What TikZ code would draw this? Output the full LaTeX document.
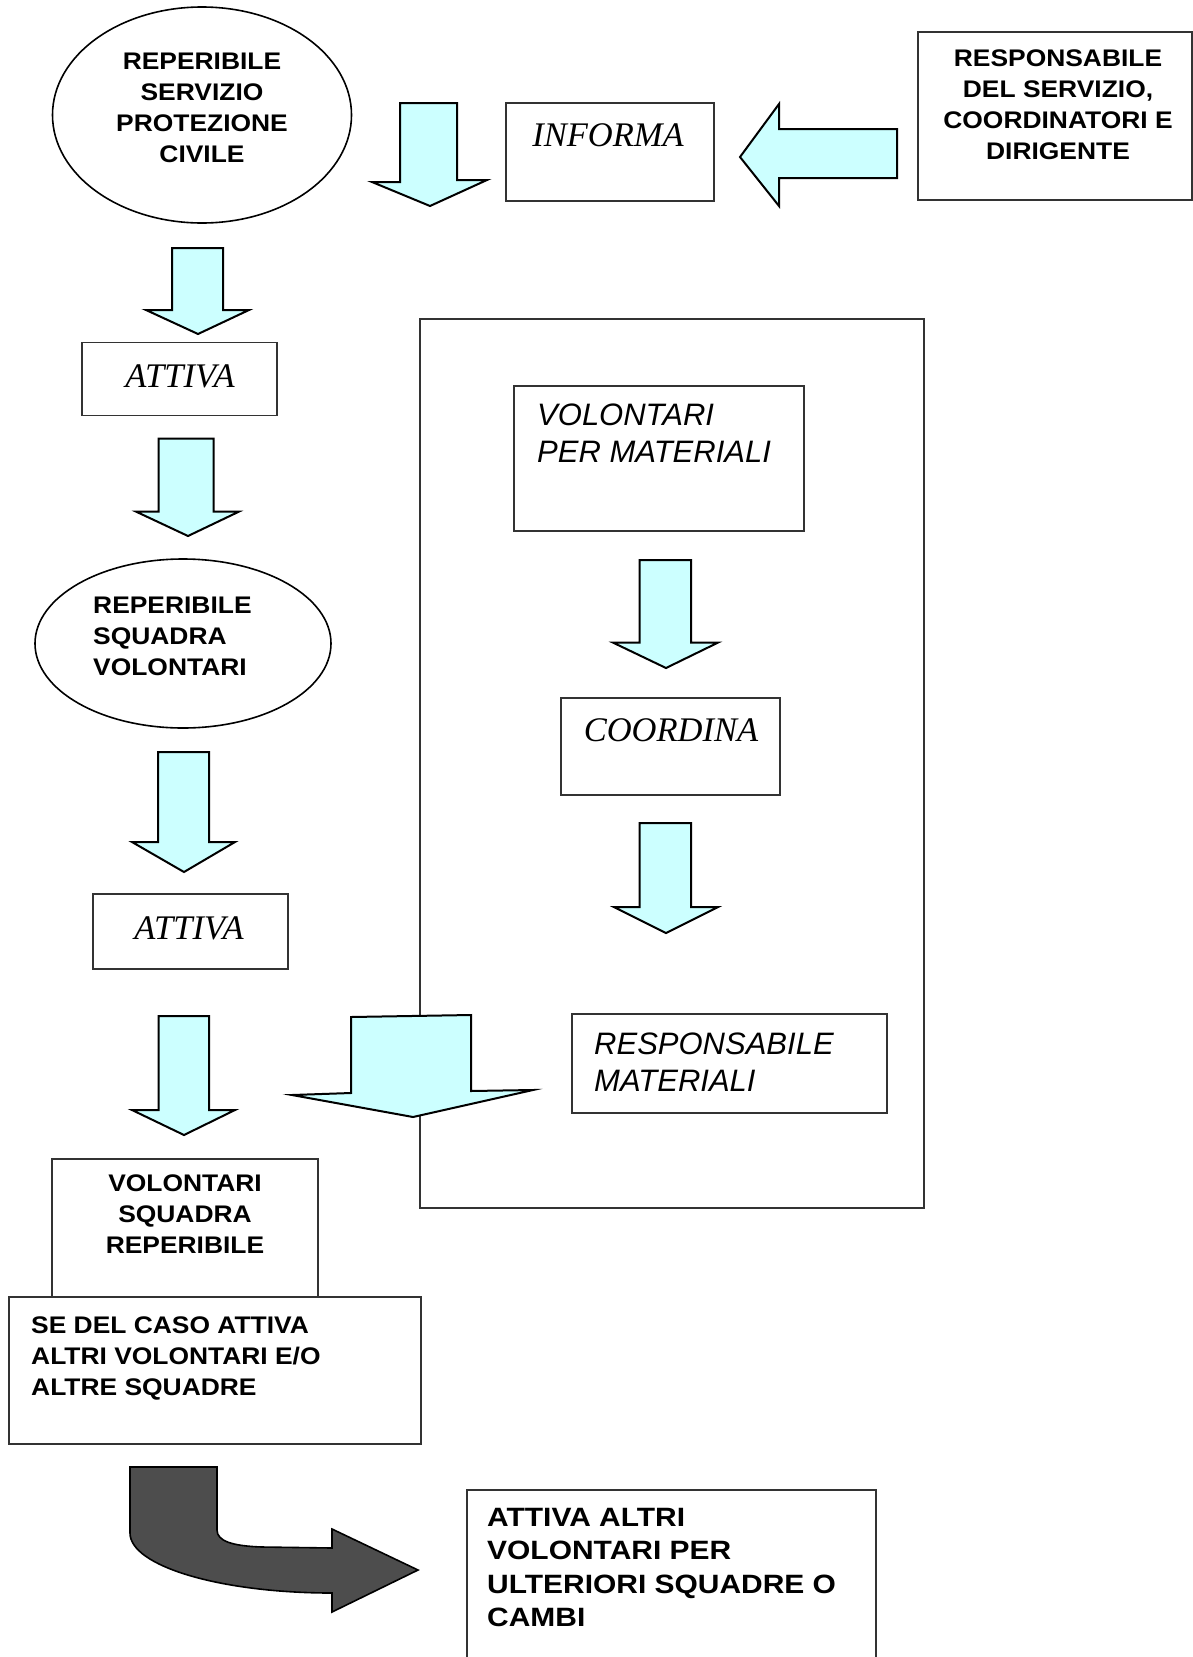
\documentclass[tikz,border=0pt]{standalone}
\usepackage{fontspec}
\setmainfont{Liberation Serif}
\newfontfamily\bsans[FakeStretch=1.1]{Liberation Sans}
\newfontfamily\wsans[FakeStretch=1.13]{Liberation Sans}
\newfontfamily\isans{Liberation Sans}
\usetikzlibrary{shapes.geometric}
\definecolor{arrowcyan}{HTML}{CCFFFF}
\definecolor{darkarrow}{HTML}{4D4D4D}
\definecolor{boxline}{HTML}{333333}
\begin{document}
\begin{tikzpicture}[x=1pt,y=-1pt,
  box/.style={draw=boxline,line width=1.6pt,fill=white,rectangle,inner sep=0pt,outer sep=0pt,anchor=north west},
  oval/.style={draw=black,line width=1.6pt,fill=white,ellipse,inner sep=0pt,outer sep=0pt},
  carrow/.style={draw=black,line width=2pt,fill=arrowcyan,line join=miter},
  darrow/.style={draw=black,line width=1.6pt,fill=darkarrow,line join=miter},
  btext/.style={font=\bsans\bfseries\fontsize{24}{31}\selectfont,inner sep=0pt,align=center,anchor=north},
  btextl/.style={font=\bsans\bfseries\fontsize{24}{31}\selectfont,inner sep=0pt,align=left,anchor=north west},
  wtext/.style={font=\wsans\bfseries\fontsize{26.5}{33.5}\selectfont,inner sep=0pt,align=left,anchor=north west},
  serifit/.style={font=\itshape\fontsize{34.5}{40}\selectfont,inner sep=0pt,anchor=north},
  sansit/.style={font=\isans\itshape\fontsize{31}{36.5}\selectfont,inner sep=0pt,align=left,anchor=north west}
]
\useasboundingbox (0,0) rectangle (1193,1657);

% container
\node[box,minimum width=504pt,minimum height=889pt] (cont) at (420,319) {};

% boxes
\node[box,minimum width=208pt,minimum height=98pt] (informa) at (506,103) {};
\node[box,minimum width=274pt,minimum height=168pt] (respserv) at (918,32) {};
\node[box,minimum width=195pt,minimum height=73pt] (attiva1) at (82,342.5) {};
\node[box,minimum width=195pt,minimum height=75pt] (attiva2) at (93,894) {};
\node[box,minimum width=290pt,minimum height=145pt] (volmat) at (514,386) {};
\node[box,minimum width=219pt,minimum height=97pt] (coord) at (561,698) {};
\node[box,minimum width=315pt,minimum height=99pt] (respmat) at (572,1014) {};
\node[box,minimum width=266pt,minimum height=138pt] (volsq) at (52,1159) {};
\node[box,minimum width=412pt,minimum height=147pt] (sedel) at (9,1297) {};
\node[box,minimum width=409pt,minimum height=200pt] (altri) at (467,1490) {};

% ellipses
\node[oval,minimum width=299pt,minimum height=216pt] (rep1) at (202,115) {};
\node[oval,minimum width=296pt,minimum height=169pt] (rep2) at (183,643.5) {};

% cyan block arrows
\draw[carrow] (400,103) -- (457,103) -- (457,180) -- (487,180) -- (430,206) -- (372,182) -- (400,182) -- cycle;
\draw[carrow] (897,129) -- (897,178) -- (779,178) -- (779,206) -- (740,157) -- (779,104) -- (779,129) -- cycle;
\draw[carrow] (172,248) -- (223,248) -- (223,310) -- (249,310) -- (198,334) -- (146,310) -- (172,310) -- cycle;
\draw[carrow] (158.5,438.6) -- (213.5,438.6) -- (213.5,511.6) -- (239,511.6) -- (188,536) -- (136,511.6) -- (158.5,511.6) -- cycle;
\draw[carrow] (158,752) -- (209,752) -- (209,842) -- (235,842) -- (184,872) -- (132,842) -- (158,842) -- cycle;
\draw[carrow] (158.5,1016) -- (209,1016) -- (209,1110) -- (235,1110) -- (184,1135) -- (132,1110) -- (158.5,1110) -- cycle;
\draw[carrow] (639.5,560) -- (691,560) -- (691,642.6) -- (718,642.6) -- (666,668) -- (613,642.6) -- (639.5,642.6) -- cycle;
\draw[carrow] (639.5,823) -- (691,823) -- (691,907) -- (718,907) -- (666,933) -- (614,907) -- (639.5,907) -- cycle;
\draw[carrow] (351,1017) -- (471,1015) -- (471,1091) -- (533,1090) -- (413,1117) -- (292,1095) -- (351,1093) -- cycle;

% dark curved arrow
\draw[darrow] (130,1467) -- (217,1467) -- (217,1530)
  .. controls (217,1541) and (232,1546) .. (262,1547) -- (332,1548)
  -- (332,1529) -- (418,1570) -- (332,1612) -- (332,1593)
  .. controls (220,1593) and (130,1566) .. (130,1533) -- cycle;

% texts
\node[btext] (t_rep1) at (202,53) {REPERIBILE\\SERVIZIO\\PROTEZIONE\\CIVILE};
\node[serifit] (t_informa) at (608,123) {INFORMA};
\node[btext] (t_respserv) at (1058,50) {RESPONSABILE\\DEL SERVIZIO,\\COORDINATORI E\\DIRIGENTE};
\node[serifit] (t_attiva1) at (180,365) {ATTIVA};
\node[btextl] (t_rep2) at (93,597) {REPERIBILE\\SQUADRA\\VOLONTARI};
\node[serifit] (t_attiva2) at (189,917) {ATTIVA};
\node[sansit] (t_volmat) at (537,404) {VOLONTARI\\PER MATERIALI};
\node[serifit] (t_coord) at (671,718) {COORDINA};
\node[sansit] (t_respmat) at (594,1033) {RESPONSABILE\\MATERIALI};
\node[btext] (t_volsq) at (185,1175) {VOLONTARI\\SQUADRA\\REPERIBILE};
\node[btextl] (t_sedel) at (31,1317) {SE DEL CASO ATTIVA\\ALTRI VOLONTARI E/O\\ALTRE SQUADRE};
\node[wtext] (t_altri) at (487,1508) {ATTIVA ALTRI\\VOLONTARI PER\\ULTERIORI SQUADRE O\\CAMBI};
\end{tikzpicture}
\end{document}
